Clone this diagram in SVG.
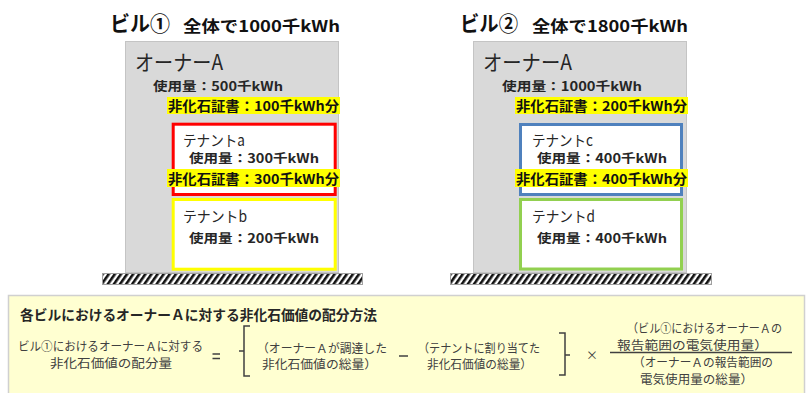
<svg xmlns="http://www.w3.org/2000/svg" width="807" height="393" viewBox="0 0 807 393">
<defs>
<pattern id="hatch" patternUnits="userSpaceOnUse" width="5" height="5" patternTransform="rotate(35)">
<rect width="5" height="5" fill="#fff"/>
<rect width="2.6" height="5" fill="#111"/>
</pattern>
</defs>
<style>
text{font-family:"Noto Sans CJK JP","Noto Sans",sans-serif;fill:#262626}
.ttl{font-size:21px;font-weight:bold;fill:#111}
.sub{font-size:16px;font-weight:bold;fill:#111}
.own{font-size:21px}
.ten{font-size:15px}
.use{font-size:12.5px;font-weight:bold}
.hl{font-size:13.5px;font-weight:bold;fill:#111}
.hlr{fill:#FFFF00}
.bldg{fill:#D9D9D9;stroke:#C4C4C4;stroke-width:1}
.ground{fill:url(#hatch);stroke:#A0A0A0;stroke-width:1}
.box{fill:#fff;stroke-width:3}
.f{font-size:12px;fill:#404040}
.br{fill:none;stroke:#404040;stroke-width:1.5}
</style>

<g id="building1">
<text class="ttl" x="110" y="31" textLength="60" lengthAdjust="spacingAndGlyphs">ビル①</text>
<text class="sub" x="183" y="32" textLength="157" lengthAdjust="spacingAndGlyphs">全体で1000千kWh</text>
<rect class="bldg" x="125.5" y="41.5" width="213" height="231"/>
<rect class="ground" x="102.5" y="273.5" width="260" height="11"/>
<text class="own" x="135" y="70" textLength="88" lengthAdjust="spacingAndGlyphs">オーナーA</text>
<text class="use" x="153" y="91" textLength="130" lengthAdjust="spacingAndGlyphs">使用量：500千kWh</text>
<rect class="hlr" x="167" y="97" width="173" height="17"/>
<text class="hl" x="168" y="111" textLength="171" lengthAdjust="spacingAndGlyphs">非化石証書：100千kWh分</text>
</g>

<g id="tenant-a">
<rect class="box" x="173.2" y="124.2" width="162" height="70.3" stroke="#FF0000"/>
<text class="ten" x="183" y="145.5" textLength="62" lengthAdjust="spacingAndGlyphs">テナントa</text>
<text class="use" x="189" y="163" textLength="130" lengthAdjust="spacingAndGlyphs">使用量：300千kWh</text>
<rect class="hlr" x="167" y="169" width="173" height="18"/>
<text class="hl" x="168" y="184" textLength="171" lengthAdjust="spacingAndGlyphs">非化石証書：300千kWh分</text>
</g>

<g id="tenant-b">
<rect class="box" x="173.2" y="199.5" width="162" height="69.7" stroke="#FFFF00"/>
<text class="ten" x="183" y="222" textLength="64" lengthAdjust="spacingAndGlyphs">テナントb</text>
<text class="use" x="189" y="243" textLength="130" lengthAdjust="spacingAndGlyphs">使用量：200千kWh</text>
</g>

<g id="building2">
<text class="ttl" x="460" y="31" textLength="58" lengthAdjust="spacingAndGlyphs">ビル②</text>
<text class="sub" x="532" y="32" textLength="156" lengthAdjust="spacingAndGlyphs">全体で1800千kWh</text>
<rect class="bldg" x="473.5" y="41.5" width="213" height="231"/>
<rect class="ground" x="450.5" y="273.5" width="261" height="11"/>
<text class="own" x="483" y="70" textLength="89" lengthAdjust="spacingAndGlyphs">オーナーA</text>
<text class="use" x="502" y="91" textLength="140" lengthAdjust="spacingAndGlyphs">使用量：1000千kWh</text>
<rect class="hlr" x="515" y="97" width="173" height="17"/>
<text class="hl" x="516" y="111" textLength="171" lengthAdjust="spacingAndGlyphs">非化石証書：200千kWh分</text>
</g>

<g id="tenant-c">
<rect class="box" x="520.5" y="124.5" width="161" height="70" stroke="#4F81BD"/>
<text class="ten" x="532" y="145.5" textLength="61" lengthAdjust="spacingAndGlyphs">テナントc</text>
<text class="use" x="537" y="163" textLength="130" lengthAdjust="spacingAndGlyphs">使用量：400千kWh</text>
<rect class="hlr" x="515" y="169" width="173" height="18"/>
<text class="hl" x="516" y="184" textLength="171" lengthAdjust="spacingAndGlyphs">非化石証書：400千kWh分</text>
</g>

<g id="tenant-d">
<rect class="box" x="520.5" y="199.5" width="161" height="69.5" stroke="#92D050"/>
<text class="ten" x="532" y="222" textLength="63" lengthAdjust="spacingAndGlyphs">テナントd</text>
<text class="use" x="537" y="243" textLength="130" lengthAdjust="spacingAndGlyphs">使用量：400千kWh</text>
</g>

<g id="formula-box">
<rect x="8.5" y="295.5" width="796" height="100" fill="#FFFFD1" stroke="#D0D0D0" stroke-width="1.5"/>
<text x="20" y="320" font-size="14" font-weight="bold" fill="#111" textLength="357" lengthAdjust="spacingAndGlyphs">各ビルにおけるオーナーＡに対する非化石価値の配分方法</text>
<text class="f" x="18" y="351" textLength="185" lengthAdjust="spacingAndGlyphs">ビル①におけるオーナーＡに対する</text>
<text class="f" x="50" y="368" textLength="122" lengthAdjust="spacingAndGlyphs">非化石価値の配分量</text>
<path class="br" d="M212.5,354 H220 M212.5,358.5 H220"/>
<path class="br" d="M250,326 H244 V351 H239 M244,351 V376 H250"/>
<text class="f" x="257" y="353" textLength="130" lengthAdjust="spacingAndGlyphs">（オーナーＡが調達した</text>
<text class="f" x="262" y="369" textLength="115" lengthAdjust="spacingAndGlyphs">非化石価値の総量）</text>
<path class="br" d="M399,356 H408"/>
<text class="f" x="418" y="353" textLength="122" lengthAdjust="spacingAndGlyphs">（テナントに割り当てた</text>
<text class="f" x="427" y="369" textLength="105" lengthAdjust="spacingAndGlyphs">非化石価値の総量）</text>
<path class="br" d="M559,333 H565 V355 H570 M565,355 V375 H559"/>
<text class="f" x="586" y="360">×</text>
<text class="f" x="627" y="333" textLength="155" lengthAdjust="spacingAndGlyphs">（ビル①におけるオーナーＡの</text>
<text class="f" x="617" y="350" textLength="151" lengthAdjust="spacingAndGlyphs">報告範囲の電気使用量）</text>
<path d="M610,352.5 H792" stroke="#404040" stroke-width="1.3"/>
<text class="f" x="633" y="367" textLength="140" lengthAdjust="spacingAndGlyphs">（オーナーＡの報告範囲の</text>
<text class="f" x="640" y="384" textLength="113" lengthAdjust="spacingAndGlyphs">電気使用量の総量）</text>
</g>
</svg>
